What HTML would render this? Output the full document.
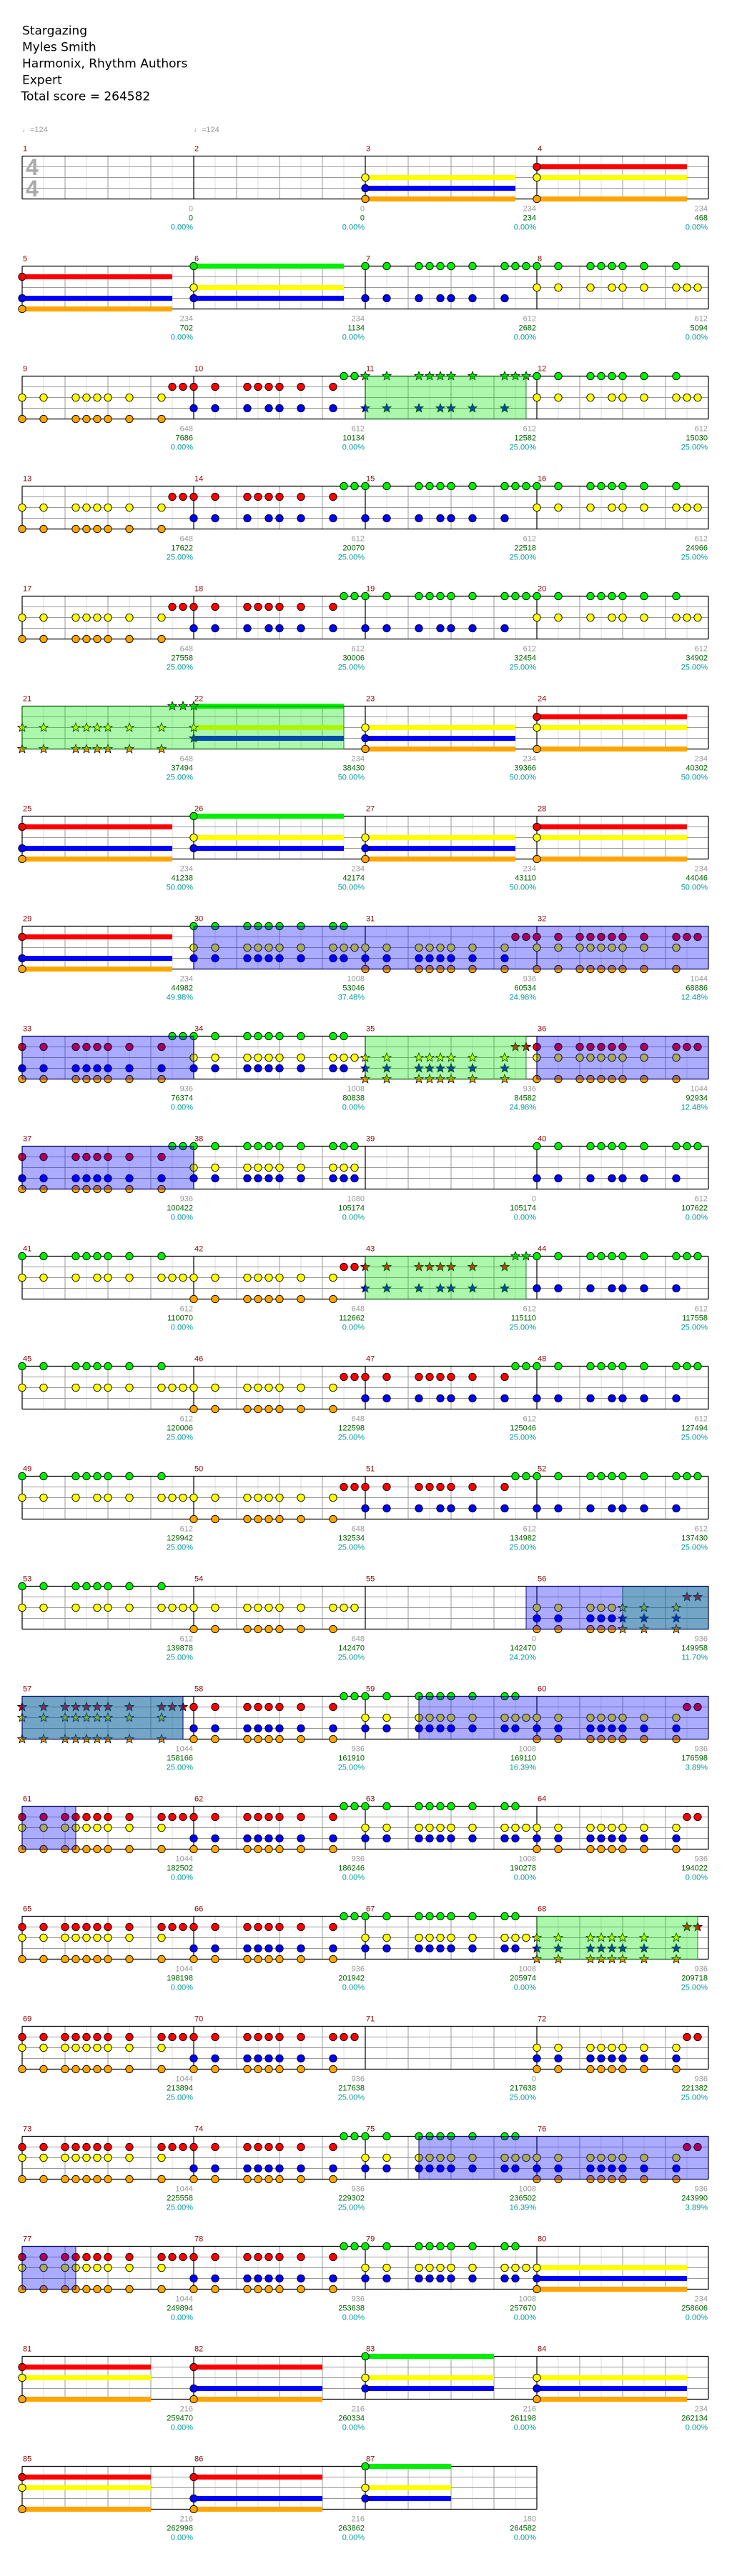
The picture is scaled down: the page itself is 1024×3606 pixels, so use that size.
<!DOCTYPE html>
<html><head><meta charset="utf-8"><title>Stargazing - Expert</title>
<style>
html,body{margin:0;padding:0;background:#fff;}
svg{display:block;}
.hdr{font-family:"DejaVu Sans","Liberation Sans",sans-serif;font-size:17px;fill:#000;}
.lbl{font-family:"Liberation Sans",sans-serif;font-size:11px;}
</style></head>
<body>
<svg id="chart" width="1024" height="3606" viewBox="0 0 1024 3606" xmlns="http://www.w3.org/2000/svg">
<rect x="0" y="0" width="1024" height="3606" fill="#fff"/>
<g>
<text class="hdr" x="31" y="48.5">Stargazing</text>
<text class="hdr" x="31" y="71.5">Myles Smith</text>
<text class="hdr" x="31" y="94.5">Harmonix, Rhythm Authors</text>
<text class="hdr" x="31" y="117.5">Expert</text>
<text class="hdr" x="29.5" y="140.5">Total score = 264582</text>
</g>
<text class="lbl" x="31" y="185" fill="#999">♩=124</text>
<text class="lbl" x="271" y="185" fill="#999">♩=124</text>
<g id="rows"></g>
</svg>
<script>
// ---- chart data ----
const measureNotes = [
"", "", "Y~14|B~14|O~14", "R~14|Y~14|O~14",
"R~14|B~14|O~14", "G~14|Y~14|B~14",
"G:0,2,5,6,7,8,10,13,14,15|B:0,2,5,7,8,10,13",
"G:0,2,5,6,7,8,10,13|Y:0,2,5,7,8,10,13,14,15",
"Y:0,2,5,6,7,8,10,13|O:0,2,5,6,7,8,10,13|R:14,15",
"R:0,2,5,6,7,8,10,13|B:0,2,5,7,8,10,13|G:14,15",
"G:0,2,5,6,7,8,10,13,14,15|B:0,2,5,7,8,10,13",
"G:0,2,5,6,7,8,10,13|Y:0,2,5,7,8,10,13,14,15",
"Y:0,2,5,6,7,8,10,13|O:0,2,5,6,7,8,10,13|R:14,15",
"R:0,2,5,6,7,8,10,13|B:0,2,5,7,8,10,13|G:14,15",
"G:0,2,5,6,7,8,10,13,14,15|B:0,2,5,7,8,10,13",
"G:0,2,5,6,7,8,10,13|Y:0,2,5,7,8,10,13,14,15",
"Y:0,2,5,6,7,8,10,13|O:0,2,5,6,7,8,10,13|R:14,15",
"R:0,2,5,6,7,8,10,13|B:0,2,5,7,8,10,13|G:14,15",
"G:0,2,5,6,7,8,10,13,14,15|B:0,2,5,7,8,10,13",
"G:0,2,5,6,7,8,10,13|Y:0,2,5,7,8,10,13,14,15",
"Y:0,2,5,6,7,8,10,13|O:0,2,5,6,7,8,10,13|G:14,15",
"G~14|Y~14|B~14", "Y~14|B~14|O~14", "R~14|Y~14|O~14",
"R~14|B~14|O~14", "G~14|Y~14|B~14", "Y~14|B~14|O~14", "R~14|Y~14|O~14",
"R~14|B~14|O~14",
"G:0,2,5,6,7,8,10,13,14|Y:0,2,5,6,7,8,10,13,14,15|B:0,2,5,6,7,8,10,13,14",
"Y:0,2,5,6,7,8,10,13|B:0,2,5,6,7,8,10,13|O:0,2,5,6,7,8,10,13|R:14,15",
"R:0,2,4,5,6,7,8,10,13,14,15|Y:0,2,4,5,6,7,8,10,13|O:0,2,4,5,6,7,8,10,13",
"R:0,2,5,6,7,8,10,13|B:0,2,5,6,7,8,10,13|O:0,2,5,6,7,8,10,13|G:14,15",
"G:0,2,5,6,7,8,10,13,14|Y:0,2,5,6,7,8,10,13,14,15|B:0,2,5,6,7,8,10,13,14",
"Y:0,2,5,6,7,8,10,13|B:0,2,5,6,7,8,10,13|O:0,2,5,6,7,8,10,13|R:14,15",
"R:0,2,4,5,6,7,8,10,13,14,15|Y:0,2,4,5,6,7,8,10,13|O:0,2,4,5,6,7,8,10,13",
"R:0,2,5,6,7,8,10,13|B:0,2,5,6,7,8,10,13|O:0,2,5,6,7,8,10,13|G:14,15",
"G:0,2,5,6,7,8,10,13,14,15|Y:0,2,5,6,7,8,10,13,14,15|B:0,2,5,6,7,8,10,13,14,15",
"",
"G:0,2,5,6,7,8,10,13,14,15|B:0,2,5,7,8,10,13",
"G:0,2,5,6,7,8,10,13|Y:0,2,5,7,8,10,13,14,15",
"Y:0,2,5,6,7,8,10,13|O:0,2,5,6,7,8,10,13|R:14,15",
"R:0,2,5,6,7,8,10,13|B:0,2,5,7,8,10,13|G:14,15",
"G:0,2,5,6,7,8,10,13,14,15|B:0,2,5,7,8,10,13",
"G:0,2,5,6,7,8,10,13|Y:0,2,5,7,8,10,13,14,15",
"Y:0,2,5,6,7,8,10,13|O:0,2,5,6,7,8,10,13|R:14,15",
"R:0,2,5,6,7,8,10,13|B:0,2,5,7,8,10,13|G:14,15",
"G:0,2,5,6,7,8,10,13,14,15|B:0,2,5,7,8,10,13",
"G:0,2,5,6,7,8,10,13|Y:0,2,5,7,8,10,13,14,15",
"Y:0,2,5,6,7,8,10,13|O:0,2,5,6,7,8,10,13|R:14,15",
"R:0,2,5,6,7,8,10,13|B:0,2,5,7,8,10,13|G:14,15",
"G:0,2,5,6,7,8,10,13,14,15|B:0,2,5,7,8,10,13",
"G:0,2,5,6,7,8,10,13|Y:0,2,5,7,8,10,13,14,15",
"Y:0,2,5,6,7,8,10,13,14,15|O:0,2,5,6,7,8,10,13",
"",
"Y:0,2,5,6,7,8,10,13|B:0,2,5,6,7,8,10,13|O:0,2,5,6,7,8,10,13|R:14,15",
"R:0,2,4,5,6,7,8,10,13,14,15|Y:0,2,4,5,6,7,8,10,13|O:0,2,4,5,6,7,8,10,13",
"R:0,2,5,6,7,8,10,13|B:0,2,5,6,7,8,10,13|O:0,2,5,6,7,8,10,13|G:14,15",
"G:0,2,5,6,7,8,10,13,14|Y:0,2,5,6,7,8,10,13,14,15|B:0,2,5,6,7,8,10,13,14",
"Y:0,2,5,6,7,8,10,13|B:0,2,5,6,7,8,10,13|O:0,2,5,6,7,8,10,13|R:14,15",
"R:0,2,4,5,6,7,8,10,13,14,15|Y:0,2,4,5,6,7,8,10,13|O:0,2,4,5,6,7,8,10,13",
"R:0,2,5,6,7,8,10,13|B:0,2,5,6,7,8,10,13|O:0,2,5,6,7,8,10,13|G:14,15",
"G:0,2,5,6,7,8,10,13,14|Y:0,2,5,6,7,8,10,13,14,15|B:0,2,5,6,7,8,10,13,14",
"Y:0,2,5,6,7,8,10,13|B:0,2,5,6,7,8,10,13|O:0,2,5,6,7,8,10,13|R:14,15",
"R:0,2,4,5,6,7,8,10,13,14,15|Y:0,2,4,5,6,7,8,10,13|O:0,2,4,5,6,7,8,10,13",
"R:0,2,5,6,7,8,10,13|B:0,2,5,6,7,8,10,13|O:0,2,5,6,7,8,10,13|G:14,15",
"G:0,2,5,6,7,8,10,13,14|Y:0,2,5,6,7,8,10,13,14,15|B:0,2,5,6,7,8,10,13,14",
"Y:0,2,5,6,7,8,10,13|B:0,2,5,6,7,8,10,13|O:0,2,5,6,7,8,10,13|R:14,15",
"R:0,2,4,5,6,7,8,10,13,14,15|Y:0,2,4,5,6,7,8,10,13|O:0,2,4,5,6,7,8,10,13",
"R:0,2,5,6,7,8,10,13,14,15|B:0,2,5,6,7,8,10,13|O:0,2,5,6,7,8,10,13",
"",
"Y:0,2,5,6,7,8,10,13|B:0,2,5,6,7,8,10,13|O:0,2,5,6,7,8,10,13|R:14,15",
"R:0,2,4,5,6,7,8,10,13,14,15|Y:0,2,4,5,6,7,8,10,13|O:0,2,4,5,6,7,8,10,13",
"R:0,2,5,6,7,8,10,13|B:0,2,5,6,7,8,10,13|O:0,2,5,6,7,8,10,13|G:14,15",
"G:0,2,5,6,7,8,10,13,14|Y:0,2,5,6,7,8,10,13,14,15|B:0,2,5,6,7,8,10,13,14",
"Y:0,2,5,6,7,8,10,13|B:0,2,5,6,7,8,10,13|O:0,2,5,6,7,8,10,13|R:14,15",
"R:0,2,4,5,6,7,8,10,13,14,15|Y:0,2,4,5,6,7,8,10,13|O:0,2,4,5,6,7,8,10,13",
"R:0,2,5,6,7,8,10,13|B:0,2,5,6,7,8,10,13|O:0,2,5,6,7,8,10,13|G:14,15",
"G:0,2,5,6,7,8,10,13,14|Y:0,2,5,6,7,8,10,13,14,15|B:0,2,5,6,7,8,10,13,14",
"Y~14|B~14|O~14",
"R~12|Y~12|O~12", "R~12|B~12|O~12", "G~12|Y~12|B~12", "Y~14|B~14|O~14",
"R~12|Y~12|O~12", "R~12|B~12|O~12", "G~8|Y~8|B~8"
];
const measureScores = [0,0,234,234,234,234,612,612,648,612,612,612,648,612,612,612,648,612,612,612,648,234,234,234,234,234,234,234,234,1008,936,1044,936,1008,936,1044,936,1080,0,612,612,648,612,612,612,648,612,612,612,648,612,612,612,648,0,936,1044,936,1008,936,1044,936,1008,936,1044,936,1008,936,1044,936,0,936,1044,936,1008,936,1044,936,1008,234,216,216,216,234,216,216,180];
const totalScores = [0,0,234,468,702,1134,2682,5094,7686,10134,12582,15030,17622,20070,22518,24966,27558,30006,32454,34902,37494,38430,39366,40302,41238,42174,43110,44046,44982,53046,60534,68886,76374,80838,84582,92934,100422,105174,105174,107622,110070,112662,115110,117558,120006,122598,125046,127494,129942,132534,134982,137430,139878,142470,142470,149958,158166,161910,169110,176598,182502,186246,190278,194022,198198,201942,205974,209718,213894,217638,217638,221382,225558,229302,236502,243990,249894,253638,257670,258606,259470,260334,261198,262134,262998,263862,264582];
const percentLabels = ["0.00%","0.00%","0.00%","0.00%","0.00%","0.00%","0.00%","0.00%","0.00%","0.00%","25.00%","25.00%","25.00%","25.00%","25.00%","25.00%","25.00%","25.00%","25.00%","25.00%","25.00%","50.00%","50.00%","50.00%","50.00%","50.00%","50.00%","50.00%","49.98%","37.48%","24.98%","12.48%","0.00%","0.00%","24.98%","12.48%","0.00%","0.00%","0.00%","0.00%","0.00%","0.00%","25.00%","25.00%","25.00%","25.00%","25.00%","25.00%","25.00%","25.00%","25.00%","25.00%","25.00%","25.00%","24.20%","11.70%","25.00%","25.00%","16.39%","3.89%","0.00%","0.00%","0.00%","0.00%","0.00%","0.00%","0.00%","25.00%","25.00%","25.00%","25.00%","25.00%","25.00%","25.00%","16.39%","3.89%","0.00%","0.00%","0.00%","0.00%","0.00%","0.00%","0.00%","0.00%","0.00%","0.00%","0.00%"];
// overdrive (green) and unison (blue) phrases: [startMeasure, start16th, endMeasure, end16th]
const overdrivePhrases = [[11,0,11,15],[21,0,22,14],[35,0,35,15],[43,0,43,15],[56,8,57,15],[68,0,68,15]];
const unisonPhrases = [[30,0,33,16],[36,0,37,16],[55,15,57,15],[59,5,60,16],[61,0,61,5],[75,5,76,16],[77,0,77,5]];

// ---- layout ----
const X0 = 31, MW = 240, S16 = 15, TOP0 = 218.5, ROWH = 154, LANE = 15;
const laneIndex = {G:0,R:1,Y:2,B:3,O:4};
const laneColor = ["#00ee00","#ff0000","#ffff00","#0000ff","#ffa500"];
const laneNames = ["green","red","yellow","blue","orange"];
const NS = "http://www.w3.org/2000/svg";
const root = document.getElementById('rows');
function mk(tag, attrs, parent){
  const e = document.createElementNS(NS, tag);
  for (const k in attrs) e.setAttribute(k, attrs[k]);
  parent.appendChild(e);
  return e;
}
function gpos(m, p){ return (m-1)*16 + p; }
function xOf(g){ const r = Math.floor(g/64); return X0 + (g - r*64)*S16; }
function rowOf(g){ return Math.floor(g/64); }
function topOf(r){ return TOP0 + r*ROWH; }
function inOverdrive(g){
  return overdrivePhrases.some(p => g >= gpos(p[0],p[1]) && g <= gpos(p[2],p[3]));
}
function starPts(cx, cy, R, r){
  const pts = [];
  for (let i=0;i<10;i++){
    const a = -Math.PI/2 + i*Math.PI/5, rad = i%2 ? r : R;
    pts.push((cx + rad*Math.cos(a)).toFixed(2)+','+(cy + rad*Math.sin(a)).toFixed(2));
  }
  return pts.join(' ');
}

const nMeasures = measureNotes.length;
const nRows = Math.ceil(nMeasures/4);
for (let r=0; r<nRows; r++){
  const top = topOf(r);
  const g = mk('g', {}, root);
  
  
  const mCount = Math.min(4, nMeasures - r*4);
  const right = X0 + mCount*MW;
  // vertical subdivision lines
  for (let mi=0; mi<mCount; mi++){
    const mx = X0 + mi*MW;
    for (let k=2;k<16;k+=2){
      const ln = mk('line', {x1:mx+k*S16, x2:mx+k*S16, y1:top, y2:top+60, stroke:(k%4===0)?'#999':'#ddd', 'stroke-width':1}, g);
      
      
    }
  }
  for (let l=1;l<4;l++){
    const ln = mk('line', {x1:X0, x2:right, y1:top+l*LANE, y2:top+l*LANE, stroke:'#999', 'stroke-width':1}, g);
    
    
  }
  const tl = mk('line', {x1:X0, x2:right, y1:top, y2:top, stroke:'#000', 'stroke-width':1.3}, g);
  
  
  const bl = mk('line', {x1:X0, x2:right, y1:top+60, y2:top+60, stroke:'#000', 'stroke-width':1.3}, g);
  
  
  for (let mi=0; mi<=mCount; mi++){
    const mx = X0 + mi*MW;
    const bar = mk('line', {x1:mx, x2:mx, y1:top, y2:top+60, stroke:'#000', 'stroke-width':1.2}, g);
    
    
  }
  // measure numbers and score labels
  for (let mi=0; mi<mCount; mi++){
    const m = r*4 + mi + 1;
    const mx = X0 + mi*MW;
    const num = mk('text', {x:mx+1, y:top-7, fill:'#8b0000', class:'lbl'}, g);
    num.textContent = m;
    
    
    const ex = mx + MW - 1;
    const t1 = mk('text', {x:ex, y:top+77, fill:'#999', class:'lbl', 'text-anchor':'end'}, g);
    t1.textContent = measureScores[m-1];
    
    
    const t2 = mk('text', {x:ex, y:top+90, fill:'#006400', class:'lbl', 'text-anchor':'end'}, g);
    t2.textContent = totalScores[m-1];
    
    
    const t3 = mk('text', {x:ex, y:top+103, fill:'#009999', class:'lbl', 'text-anchor':'end'}, g);
    t3.textContent = percentLabels[m-1];
    
    
  }
}
// time signature
const ts1 = mk('text', {x:36, y:top0Y(15), fill:'#aaa', 'font-family':'Liberation Sans, sans-serif', 'font-size':32, 'font-weight':'bold'}, root);
ts1.textContent = '4';


const ts2 = mk('text', {x:36, y:top0Y(45), fill:'#aaa', 'font-family':'Liberation Sans, sans-serif', 'font-size':32, 'font-weight':'bold'}, root);
ts2.textContent = '4';


function top0Y(c){ return TOP0 + c + 11.5; }

// notes
const noteLayer = mk('g', {}, root);


measureNotes.forEach((spec, i) => {
  if (!spec) return;
  const m = i+1;
  spec.split('|').forEach(tok => {
    const lane = laneIndex[tok[0]];
    if (tok[1] === '~'){
      const len = parseFloat(tok.slice(2));
      const gp = gpos(m, 0);
      const x = xOf(gp), y = topOf(rowOf(gp)) + lane*LANE;
      const sus = mk('rect', {x:x, y:y-3.5, width:len*S16, height:7, fill:laneColor[lane]}, noteLayer);
      
      
      drawNote(gp, lane);
    } else {
      tok.slice(2).split(',').forEach(p => drawNote(gpos(m, parseFloat(p)), lane));
    }
  });
});
function drawNote(gp, lane){
  const x = xOf(gp), y = topOf(rowOf(gp)) + lane*LANE;
  if (inOverdrive(gp)){
    const st = mk('polygon', {points:starPts(x, y, 6.5, 2.8), fill:laneColor[lane], stroke:'#000', 'stroke-width':0.8}, noteLayer);
    
    
  } else {
    const c = mk('circle', {cx:x, cy:y, r:5.2, fill:laneColor[lane], stroke:'#000', 'stroke-width':0.9}, noteLayer);
    
    
  }
}

// phrase overlays
function drawPhrases(list, fill, stroke, name){
  list.forEach(p => {
    let a = gpos(p[0],p[1]), b = gpos(p[2],p[3]);
    while (a < b){
      const r = rowOf(a);
      const rowEnd = (r+1)*64;
      const e = Math.min(b, rowEnd);
      const x1 = X0 + (a - r*64)*S16, x2 = X0 + (e - r*64)*S16;
      const top = topOf(r);
      const rc = mk('rect', {x:x1, y:top, width:x2-x1, height:60, fill:fill, stroke:stroke, 'stroke-width':1}, root);
      
      
      a = e;
    }
  });
}
drawPhrases(overdrivePhrases, 'rgba(0,230,0,0.33)', 'rgba(0,110,0,0.8)', 'overdrive-phrase');
drawPhrases(unisonPhrases, 'rgba(0,0,255,0.33)', 'rgba(0,0,110,0.9)', 'unison-phrase');
</script>
</body></html>
